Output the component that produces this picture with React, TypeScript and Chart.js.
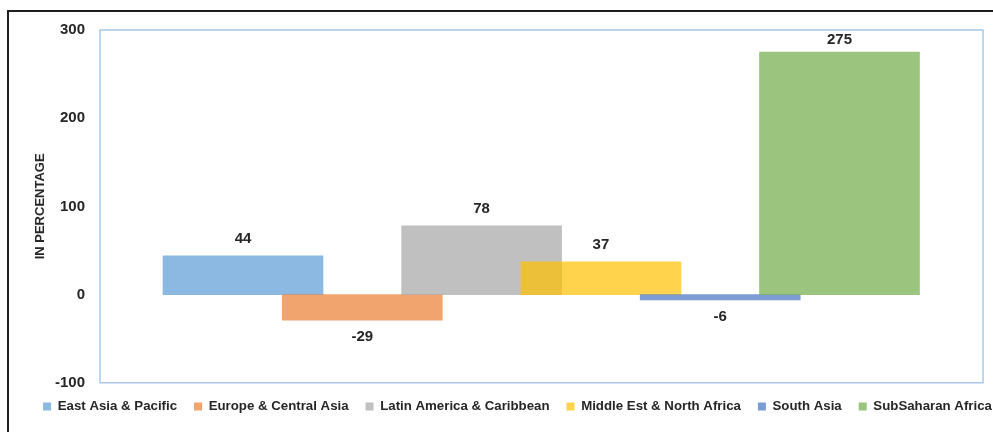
import React, { useEffect, useRef } from "react";
import { Chart, registerables } from "chart.js";

Chart.register(...registerables);

const regions = [
  "East Asia & Pacific",
  "Europe & Central Asia",
  "Latin America & Caribbean",
  "Middle Est & North Africa",
  "South Asia",
  "SubSaharan Africa",
];
const values = [44, -29, 78, 37, -6, 275];
const colors = [
  "rgba(91,155,213,0.7)",
  "rgba(237,125,49,0.7)",
  "rgba(165,165,165,0.7)",
  "rgba(255,192,0,0.7)",
  "rgba(68,114,196,0.7)",
  "rgba(112,173,71,0.7)",
];
const yTicks = [-100, 0, 100, 200, 300];
const yTitle = "IN PERCENTAGE";

const FONT = '"Liberation Sans", Arial, sans-serif';
const TEXT = "#262626";

const framePlugin = {
  id: "frame",
  beforeDatasetsDraw(chart: any) {
    const { ctx, chartArea: a } = chart;
    ctx.save();
    ctx.strokeStyle = "#A9C8EA";
    ctx.lineWidth = 1.5;
    ctx.strokeRect(a.left, a.top, a.right - a.left, a.bottom - a.top);
    ctx.restore();
  },
};

const valueLabelPlugin = {
  id: "valueLabels",
  afterDatasetsDraw(chart: any) {
    const { ctx, chartArea: a } = chart;
    ctx.save();
    ctx.font = `bold 15px ${FONT}`;
    ctx.fillStyle = TEXT;
    ctx.textAlign = "center";
    ctx.textBaseline = "middle";
    chart.data.datasets.forEach((ds: any, i: number) => {
      const meta = chart.getDatasetMeta(i);
      meta.data.forEach((el: any, j: number) => {
        const v = ds.data[j].y;
        const { x, y } = el.getProps(["x", "y"], true);
        let ty = v >= 0 ? y - 17 : y + 17;
        ty = Math.max(ty, a.top + 10);
        ctx.fillText(String(v), x, ty);
      });
    });
    ctx.restore();
  },
};

export default function App() {
  const ref = useRef<HTMLCanvasElement>(null);

  useEffect(() => {
    if (!ref.current) return;
    const chart = new Chart(ref.current, {
      type: "bar",
      data: {
        datasets: regions.map((r, i) => ({
          label: r,
          data: [{ x: i, y: values[i] }],
          backgroundColor: colors[i],
          borderWidth: 0,
          grouped: false,
          barThickness: 160,
          order: regions.length - i,
        })),
      },
      options: {
        responsive: false,
        animation: false,
        events: [],
        layout: { padding: { left: 0, right: 0, top: 18, bottom: 19 } },
        scales: {
          x: {
            type: "linear",
            display: false,
            offset: false,
            min: -1.1987,
            max: 6.2028,
            grid: { display: false },
          },
          y: {
            min: yTicks[0],
            max: yTicks[yTicks.length - 1],
            grid: { display: false, drawTicks: true, tickLength: 12 },
            border: { display: false },
            afterFit: (axis: any) => {
              axis.width = 91;
            },
            ticks: {
              stepSize: yTicks[1] - yTicks[0],
              padding: 3,
              color: TEXT,
              font: { family: FONT, size: 15, weight: "bold" },
            },
            title: {
              display: true,
              text: yTitle,
              color: TEXT,
              padding: { top: 24, bottom: 0 },
              font: { family: FONT, size: 13, weight: "bold" },
            },
          },
          yRight: {
            position: "right",
            display: true,
            grid: { display: false, drawTicks: false },
            border: { display: false },
            ticks: { display: false },
            afterFit: (axis: any) => {
              axis.width = 43;
            },
          },
        },
        plugins: {
          tooltip: { enabled: false },
          legend: {
            position: "bottom",
            labels: {
              boxWidth: 8,
              boxHeight: 8,
              padding: 17,
              color: TEXT,
              font: { family: FONT, size: 13.25, weight: "bold" },
              sort: (a: any, b: any) => a.datasetIndex - b.datasetIndex,
            },
          },
        },
      } as any,
      plugins: [framePlugin, valueLabelPlugin],
    });
    return () => chart.destroy();
  }, []);

  return (
    <div
      style={{
        position: "fixed",
        left: 0,
        top: 0,
        width: 993,
        height: 432,
        overflow: "hidden",
        background: "#fff",
      }}
    >
      <div
        style={{
          position: "absolute",
          left: 7,
          top: 10,
          width: 1021,
          height: 434,
          border: "2px solid #1e1e1e",
          boxSizing: "border-box",
        }}
      >
        <canvas ref={ref} width={1017} height={430} style={{ display: "block" }} />
      </div>
    </div>
  );
}
